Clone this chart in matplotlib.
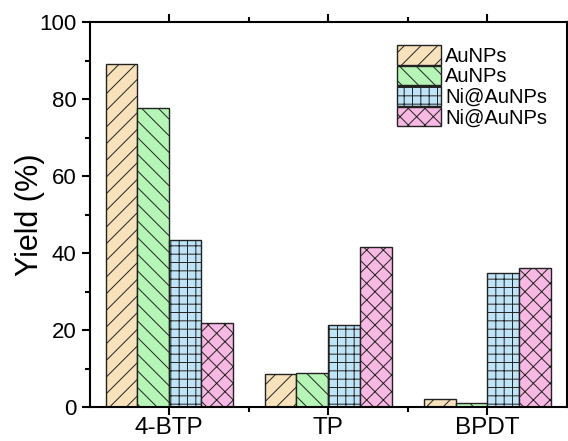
import numpy as np
import matplotlib.pyplot as plt

plt.rcParams['font.family'] = ['Liberation Sans', 'DejaVu Sans']
plt.rcParams['hatch.linewidth'] = 0.7
plt.rcParams['hatch.color'] = '#333333'

# data
categories = ['4-BTP', 'TP', 'BPDT']
series_labels = ['AuNPs', 'AuNPs', 'Ni@AuNPs', 'Ni@AuNPs']
au_a = [89.0, 8.6, 2.0]
au_b = [77.8, 8.9, 1.0]
ni_a = [43.4, 21.3, 34.9]
ni_b = [21.8, 41.7, 36.2]
series_values = [au_a, au_b, ni_a, ni_b]

colors = ['#F7E2BB', '#B5F5B5', '#BFE3F7', '#F7B8E3']
hatches = ['//', '\\\\', '++', 'xx']

fig = plt.figure(figsize=(5.68, 4.41), dpi=100)
ax = fig.add_axes([0.158, 0.077, 0.84, 0.873])

x = np.arange(len(categories))
w = 0.2
for i, vals in enumerate(series_values):
    ax.bar(x - 0.3 + i * w, vals, width=w, color=colors[i], hatch=hatches[i],
           edgecolor='#222222', linewidth=1.0, label=series_labels[i])

ax.set_xlim(-0.5, 2.5)
ax.set_ylim(0, 100)
ax.set_xticks(x)
ax.set_xticklabels(categories, fontsize=17.5)
ax.set_xticks([0.5, 1.5], minor=True)
ax.set_yticks([0, 20, 40, 60, 80, 100])
ax.set_yticks([10, 30, 50, 70, 90], minor=True)
ax.set_ylabel('Yield (%)', fontsize=22, labelpad=-4)

for s in ax.spines.values():
    s.set_linewidth(1.5)
ax.tick_params(axis='both', which='major', direction='out', length=6, width=1.5,
               top=True, right=False)
ax.tick_params(axis='y', which='major', labelsize=16)
ax.tick_params(axis='both', which='minor', direction='out', length=3.5, width=1.5,
               top=True, right=False)
ax.tick_params(axis='x', pad=1)

ax.legend(loc='upper left', bbox_to_anchor=(397 / 568, 1 - 45 / 441),
          bbox_transform=fig.transFigure, frameon=False,
          fontsize=14.5, handlelength=2.2, handleheight=1.12,
          labelspacing=0.0, handletextpad=0.2, borderpad=0, borderaxespad=0)

fig.savefig('out.png', dpi=100)
